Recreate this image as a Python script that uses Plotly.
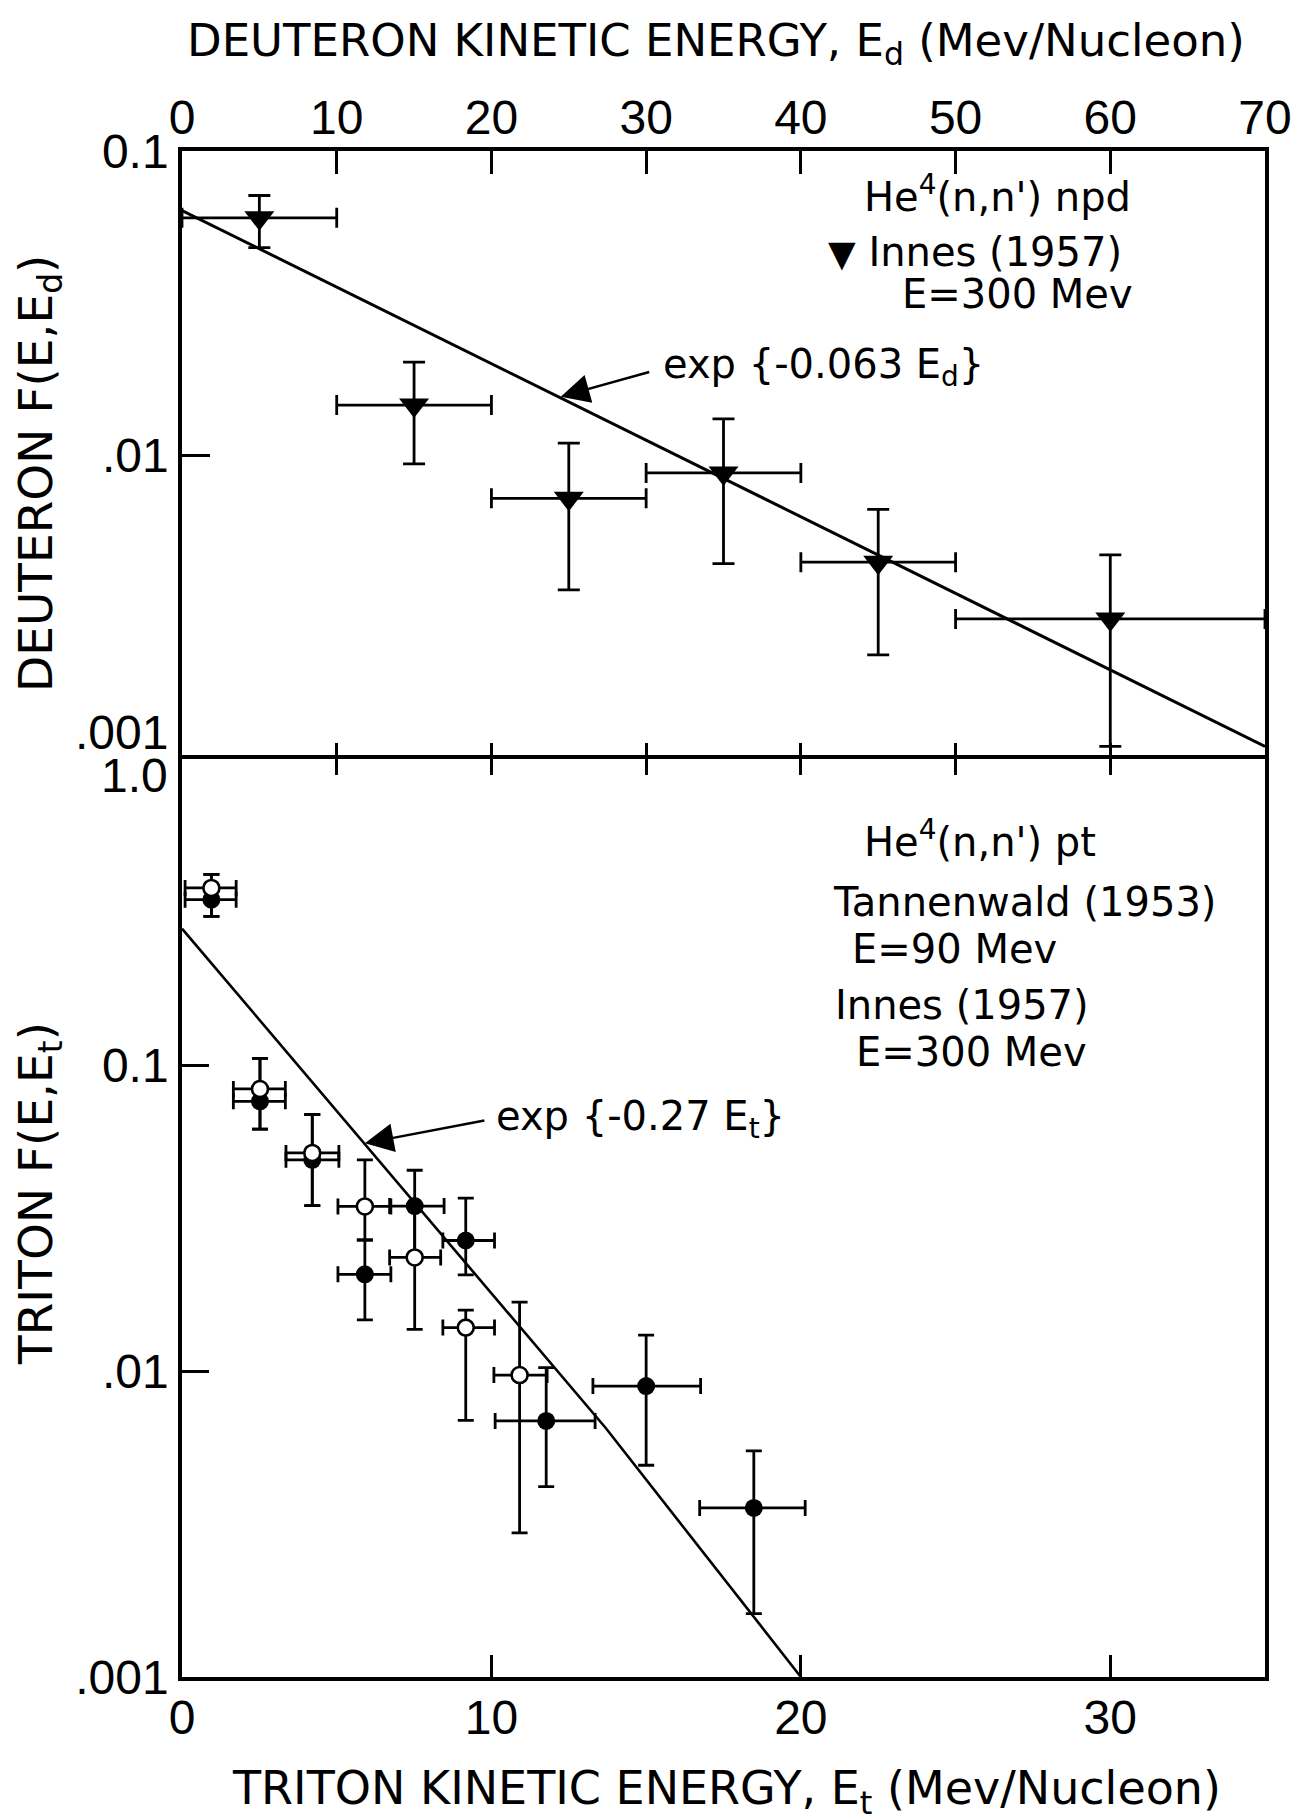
import math
import plotly.graph_objects as go

# ---------------- data ----------------
# Upper panel: He4(n,n') npd, deuterons, Innes (1957), E=300 Mev
deut_E = [5, 15, 25, 35, 45, 60]
deut_E_lo = [0, 10, 20, 30, 40, 50]
deut_E_hi = [10, 20, 30, 40, 50, 70]
deut_F = [0.0603, 0.0146, 0.0072, 0.00873, 0.00444, 0.00289]
deut_F_lo = [0.0481, 0.00935, 0.0036, 0.00439, 0.0022, 0.0011]
deut_F_hi = [0.0714, 0.0202, 0.01094, 0.01315, 0.00662, 0.00469]

deut_fit_E = [0, 70]
deut_fit_F = [0.0637, 0.0011]

# Lower panel: He4(n,n') pt, tritons, filled symbols
trit_f_E = [0.95, 2.52, 4.21, 5.91, 7.52, 9.17, 11.77, 15.0, 18.48]
trit_f_E_lo = [0.1, 1.66, 3.36, 5.04, 6.71, 8.43, 10.12, 13.28, 16.73]
trit_f_E_hi = [1.75, 3.34, 5.07, 6.75, 8.47, 10.10, 13.35, 16.76, 20.14]
trit_f_F = [0.347, 0.0761, 0.0490, 0.0207, 0.0346, 0.0267, 0.00687, 0.00893, 0.00357]
trit_f_F_lo = [0.306, 0.0617, 0.0347, 0.0147, 0.0235, 0.0206, 0.00419, 0.00492, 0.00161]
trit_f_F_hi = [0.420, 0.1051, 0.0689, 0.0268, 0.0453, 0.0367, 0.01025, 0.01309, 0.00548]

# Lower panel: open symbols
trit_o_E = [0.95, 2.52, 4.21, 5.91, 7.52, 9.17, 10.91]
trit_o_E_lo = [0.1, 1.66, 3.36, 5.04, 6.71, 8.43, 10.08]
trit_o_E_hi = [1.75, 3.34, 5.07, 6.75, 8.36, 10.10, 11.80]
trit_o_F = [0.379, 0.0835, 0.0516, 0.0345, 0.0235, 0.01386, 0.0097]
trit_o_F_lo = [0.306, 0.0617, 0.0347, 0.0268, 0.01368, 0.0069, 0.00296]
trit_o_F_hi = [0.420, 0.1051, 0.0689, 0.0490, 0.0346, 0.0158, 0.0168]

trit_fit_E = [0, 13.7, 20]
trit_fit_F = [0.279, 0.0065, 0.001]

# tick labels
top_ticks = [0, 10, 20, 30, 40, 50, 60, 70]
top_labels = ["0", "10", "20", "30", "40", "50", "60", "70"]
bottom_ticks = [0, 10, 20, 30]
bottom_labels = ["0", "10", "20", "30"]
deut_y_ticks = [0.1, 0.01, 0.001]
deut_y_labels = ["0.1", ".01", ".001"]
trit_y_ticks = [1.0, 0.1, 0.01, 0.001]
trit_y_labels = ["1.0", "0.1", ".01", ".001"]

# points where the annotation arrows touch the fit lines
deut_arrow_at = (24.48, 0.01556)
trit_arrow_at = (5.91, 0.0555)

# ---------------- layout geometry ----------------
W, H = 1301, 1819
L, R, T, B = 174, 44, 143, 150
PW, PH = W - L - R, H - T - B
Y_SPLIT_PX = 751


def px(xp):
    return (xp - L) / PW


def py(yp):
    return (H - B - yp) / PH


TICKFONT = dict(family="Liberation Sans Narrow, Liberation Sans, Arial, sans-serif", size=48, color="black")
TXT = "DejaVu Sans, Liberation Sans, sans-serif"


def diff(a, b):
    return [x - y for x, y in zip(a, b)]


fig = go.Figure()

ebar = dict(color="black", thickness=2.8)

# upper fit line
fig.add_trace(go.Scatter(x=deut_fit_E, y=deut_fit_F, mode="lines",
                         line=dict(color="black", width=3), xaxis="x", yaxis="y",
                         hoverinfo="skip", showlegend=False))
# upper data
fig.add_trace(go.Scatter(
    x=deut_E, y=deut_F, mode="markers", xaxis="x", yaxis="y",
    marker=dict(symbol="triangle-down", size=26, color="black"),
    error_y=dict(type="data", symmetric=False, array=diff(deut_F_hi, deut_F),
                 arrayminus=diff(deut_F, deut_F_lo), width=11, **ebar),
    error_x=dict(type="data", symmetric=False, array=diff(deut_E_hi, deut_E),
                 arrayminus=diff(deut_E, deut_E_lo), width=10, **ebar),
    name="Innes (1957)", showlegend=False, cliponaxis=False))

# lower fit line
fig.add_trace(go.Scatter(x=trit_fit_E, y=trit_fit_F, mode="lines",
                         line=dict(color="black", width=2.6), xaxis="x2", yaxis="y2",
                         hoverinfo="skip", showlegend=False))
# lower filled
fig.add_trace(go.Scatter(
    x=trit_f_E, y=trit_f_F, mode="markers", xaxis="x2", yaxis="y2",
    marker=dict(symbol="circle", size=18, color="black"),
    error_y=dict(type="data", symmetric=False, array=diff(trit_f_F_hi, trit_f_F),
                 arrayminus=diff(trit_f_F, trit_f_F_lo), width=8, **ebar),
    error_x=dict(type="data", symmetric=False, array=diff(trit_f_E_hi, trit_f_E),
                 arrayminus=diff(trit_f_E, trit_f_E_lo), width=8, **ebar),
    name="Innes (1957)", showlegend=False, cliponaxis=False))
# lower open
fig.add_trace(go.Scatter(
    x=trit_o_E, y=trit_o_F, mode="markers", xaxis="x2", yaxis="y2",
    marker=dict(symbol="circle", size=16, color="white", line=dict(color="black", width=2.6)),
    error_y=dict(type="data", symmetric=False, array=diff(trit_o_F_hi, trit_o_F),
                 arrayminus=diff(trit_o_F, trit_o_F_lo), width=8, **ebar),
    error_x=dict(type="data", symmetric=False, array=diff(trit_o_E_hi, trit_o_E),
                 arrayminus=diff(trit_o_E, trit_o_E_lo), width=8, **ebar),
    name="Tannenwald (1953)", showlegend=False, cliponaxis=False))

# helper traces so the overlay tick axes exist
fig.add_trace(go.Scatter(x=[None], y=[None], xaxis="x3", yaxis="y", showlegend=False, hoverinfo="skip"))
fig.add_trace(go.Scatter(x=[None], y=[None], xaxis="x4", yaxis="y2", showlegend=False, hoverinfo="skip"))

AX = dict(showgrid=False, zeroline=False, color="black", linecolor="black", tickcolor="black",
          tickwidth=3, linewidth=3.5, showline=True)

ysplit = py(Y_SPLIT_PX)

fig.update_layout(
    width=W, height=H, margin=dict(l=L, r=R, t=T, b=B),
    paper_bgcolor="white", plot_bgcolor="white", showlegend=False,
    xaxis=dict(AX, domain=[0, 1], anchor="y", side="top", range=[0, 70],
               tickvals=top_ticks, ticktext=top_labels, ticks="inside", ticklen=23,
               mirror=False, tickfont=TICKFONT, ticklabelstandoff=-6),
    xaxis3=dict(domain=[0, 1], anchor="y", overlaying="x", side="bottom", range=[0, 70],
                tickvals=top_ticks[1:-1], ticks="inside", ticklen=16, tickwidth=3,
                tickcolor="black", showticklabels=False, showline=False, showgrid=False,
                zeroline=False),
    yaxis=dict(AX, domain=[ysplit, 1], anchor="x", type="log", range=[-3, -1],
               tickvals=deut_y_ticks, ticktext=deut_y_labels[:-1] + [""], ticks="inside",
               ticklen=28, mirror=True, tickfont=TICKFONT, ticklabelstandoff=0),
    xaxis2=dict(AX, domain=[0, 1], anchor="y2", side="bottom", range=[0, 35],
                tickvals=bottom_ticks, ticktext=bottom_labels, ticks="inside", ticklen=22,
                mirror=True, tickfont=TICKFONT, ticklabelstandoff=-4),
    xaxis4=dict(domain=[0, 1], anchor="y2", overlaying="x2", side="top", range=[0, 35],
                tickvals=[5, 10, 15, 20, 25, 30], ticks="inside", ticklen=16, tickwidth=3,
                tickcolor="black", showticklabels=False, showline=False, showgrid=False,
                zeroline=False),
    yaxis2=dict(AX, domain=[0, ysplit], anchor="x2", type="log", range=[-3, 0],
                tickvals=trit_y_ticks, ticktext=[""] + trit_y_labels[1:], ticks="inside",
                ticklen=27, mirror=True, tickfont=TICKFONT, ticklabelstandoff=0),
)

ann = []


def text(s, xp, yp, size=40, xanchor="left", angle=0, family=TXT):
    ann.append(dict(text=s, x=px(xp), y=py(yp), xref="paper", yref="paper",
                    xanchor=xanchor, yanchor="middle", showarrow=False, textangle=angle,
                    font=dict(family=family, size=size, color="black")))


# axis titles
text("DEUTERON KINETIC ENERGY, E<sub>d</sub> (Mev/Nucleon)", 708, 35, size=45, xanchor="center")
text("TRITON KINETIC ENERGY, E<sub>t</sub> (Mev/Nucleon)", 718, 1783, size=46, xanchor="center")
text("DEUTERON F(E,E<sub>d</sub>)", 31, 466, size=47, xanchor="center", angle=-90)
text("TRITON F(E,E<sub>t</sub>)", 31, 1186, size=47, xanchor="center", angle=-90)

# panel labels
text("He<sup>4</sup>(n,n') npd", 854, 186)
text("<span style='font-size:36px'>\u25bc</span> Innes (1957)", 818, 244)
text("E=300 Mev", 892, 286)
text("exp {-0.063 E<sub>d</sub>}", 653, 359)

text("He<sup>4</sup>(n,n') pt", 854, 831)
text("Tannenwald (1953)", 823, 894)
text("E=90 Mev", 842, 941)
text("Innes (1957)", 825, 997)
text("E=300 Mev", 846, 1044)
text("exp {-0.27 E<sub>t</sub>}", 486, 1111)

# shifted tick labels at the shared boundary
ann.append(dict(text=deut_y_labels[-1], x=0, y=-3, xref="paper", yref="y", xanchor="right",
                yanchor="middle", xshift=-12, yshift=27, showarrow=False, font=TICKFONT))
ann.append(dict(text=trit_y_labels[0], x=0, y=0, xref="paper", yref="y2", xanchor="right",
                yanchor="middle", xshift=-12, yshift=-16, showarrow=False, font=TICKFONT))

# arrows
ann.append(dict(text="", x=deut_arrow_at[0], y=math.log10(deut_arrow_at[1]), xref="x", yref="y",
                ax=90, ay=-25, axref="pixel", ayref="pixel", showarrow=True, arrowhead=2,
                arrowsize=2.3, arrowwidth=2.5, arrowcolor="black", standoff=0))
ann.append(dict(text="", x=trit_arrow_at[0], y=math.log10(trit_arrow_at[1]), xref="x2", yref="y2",
                ax=121, ay=-23, axref="pixel", ayref="pixel", showarrow=True, arrowhead=2,
                arrowsize=2.3, arrowwidth=2.5, arrowcolor="black", standoff=0))

fig.update_layout(annotations=ann)
fig.write_html("out.html")
